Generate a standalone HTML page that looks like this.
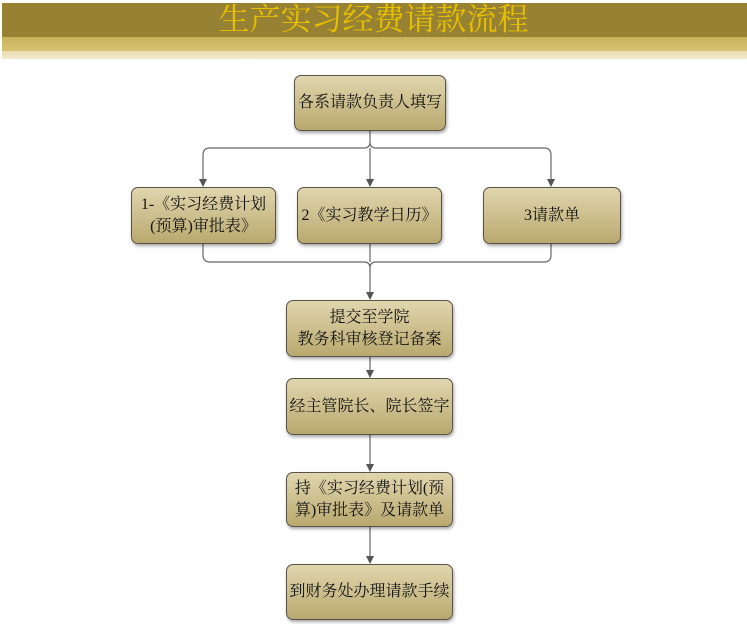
<!DOCTYPE html>
<html><head><meta charset="utf-8"><style>
body{margin:0;width:747px;height:624px;background:#fff;position:relative;overflow:hidden;font-family:"Liberation Serif","Noto Serif CJK SC",serif}
.b{position:absolute;box-sizing:border-box;border:1.5px solid #5a5448;border-radius:7px;background:linear-gradient(#e0d6ae,#c9bb88 60%,#b9a96f);box-shadow:1px 2px 3px rgba(0,0,0,.35);display:flex;align-items:center;justify-content:center;text-align:center;font-size:16px;line-height:22px;color:#111}
</style></head><body>
<div style="position:absolute;left:2px;top:3px;width:745px;height:34px;background:#968232"></div>
<div style="position:absolute;left:2px;top:37px;width:745px;height:14px;background:linear-gradient(#c9b15a,#d6c273)"></div>
<div style="position:absolute;left:2px;top:51px;width:745px;height:8px;background:linear-gradient(#e8dcb0,#f2ead0)"></div>
<div style="position:absolute;left:0;top:3px;width:747px;text-align:center;font-size:31px;line-height:34px;color:#e8c000;font-family:'Liberation Serif','Noto Serif CJK SC',serif">生产实习经费请款流程</div>
<svg width="747" height="624" style="position:absolute;left:0;top:0">
<defs><marker id="a" markerWidth="8" markerHeight="8" refX="7" refY="4" orient="auto" markerUnits="userSpaceOnUse"><path d="M0,0 L8,4 L0,8 z" fill="#555"/></marker></defs>
<g stroke="#666" stroke-width="1.2" fill="none">
<path d="M370,130 V142 Q370,148 364,148 H210 Q203,148 203,155 V186" marker-end="url(#a)"/>
<path d="M370,142 Q370,148 376,148 H544 Q551,148 551,155 V186" marker-end="url(#a)"/>
<path d="M370,148 V186" marker-end="url(#a)"/>
<path d="M203,243 V255 Q203,262 210,262 H364 Q370,262 370,268 V299" marker-end="url(#a)"/>
<path d="M551,243 V255 Q551,262 544,262 H376 Q370,262 370,268"/>
<path d="M370,243 V262"/>
<path d="M370,357 V377" marker-end="url(#a)"/>
<path d="M370,435 V471" marker-end="url(#a)"/>
<path d="M370,527 V563" marker-end="url(#a)"/>
</g></svg>
<div class="b" style="left:294px;top:75px;width:152px;height:56px">各系请款负责人填写</div>
<div class="b" style="left:131px;top:187px;width:145px;height:57px">1-《实习经费计划<br>(预算)审批表》</div>
<div class="b" style="left:297px;top:187px;width:145px;height:57px">2《实习教学日历》</div>
<div class="b" style="left:483px;top:187px;width:138px;height:57px">3请款单</div>
<div class="b" style="left:286px;top:300px;width:167px;height:57px">提交至学院<br>教务科审核登记备案</div>
<div class="b" style="left:286px;top:378px;width:167px;height:57px">经主管院长、院长签字</div>
<div class="b" style="left:286px;top:472px;width:167px;height:55px">持《实习经费计划(预<br>算)审批表》及请款单</div>
<div class="b" style="left:286px;top:564px;width:167px;height:56px">到财务处办理请款手续</div>
</body></html>
